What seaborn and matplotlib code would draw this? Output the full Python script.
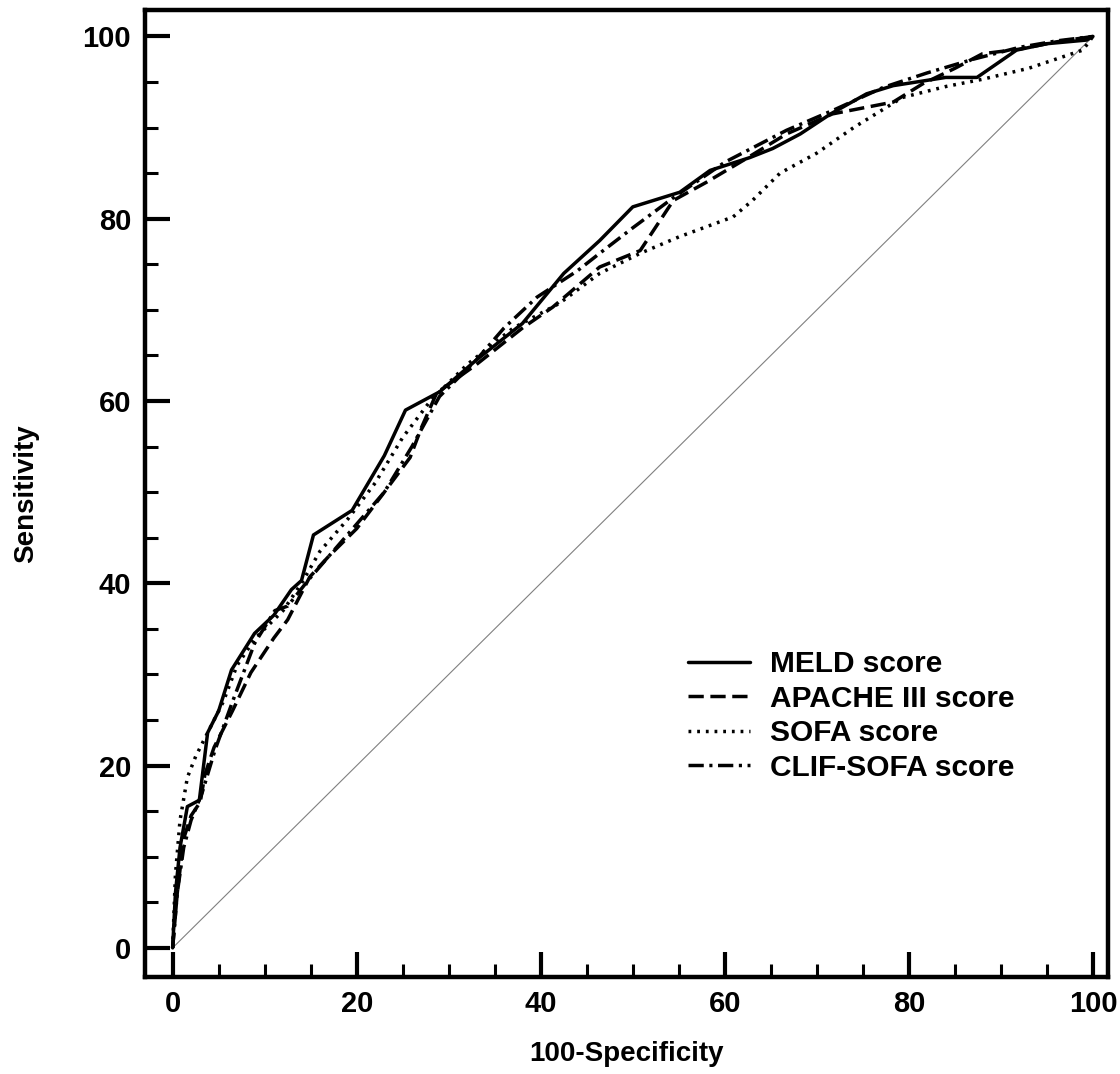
import numpy as np
import pandas as pd
import matplotlib
matplotlib.use("Agg")
import matplotlib.pyplot as plt
from matplotlib.ticker import MultipleLocator
import seaborn as sns

# ROC curves (100-Specificity, Sensitivity)
meld_x = [0, 0.3, 0.8, 1.6, 2.9, 3.8, 5, 6.4, 8.9, 11, 12.9, 14, 15.3, 19.5, 23, 25.3,
          29, 33, 38, 42.5, 46.4, 50, 55.1, 58.4, 62.7, 65.2, 68.2, 71.5, 75.4, 78.3,
          84, 87.4, 91.7, 95, 99.3, 100]
meld_y = [0, 6, 11, 15.5, 16.2, 23.6, 26, 30.5, 34.5, 36.5, 39.3, 40.3, 45.3, 48, 54, 59,
          61, 64.5, 68.5, 74, 77.6, 81.3, 82.9, 85.3, 86.7, 87.7, 89.3, 91.5, 93.7, 94.6,
          95.5, 95.5, 98.5, 99.2, 99.6, 100]

apache_x = [0, 0.5, 1.2, 2, 3, 3.5, 4.5, 6.5, 8.5, 11, 12.5, 14.9, 17, 20, 23, 25.8, 27,
            28.7, 33, 38, 41.3, 46.4, 50.8, 54.4, 58, 62, 66.7, 71.7, 78.3, 81.5, 85, 88,
            92, 96, 100]
apache_y = [0, 6, 12, 14.5, 16, 19, 22, 26, 30.2, 34, 36, 40.7, 43, 46, 50, 53.8, 57,
            60.9, 64, 68, 70.3, 74.7, 76.5, 82, 84, 86.4, 89.3, 91.5, 92.8, 94.8, 96.5, 98.1,
            98.6, 99.4, 100]

sofa_x = [0, 0.3, 0.8, 1.6, 2.5, 4, 5.5, 7, 9, 12, 14, 16, 19, 22, 25, 28, 32, 37, 42,
          46.4, 50.8, 55, 60.9, 63, 66, 70, 74, 79.3, 84, 88, 93, 98.9, 100]
sofa_y = [0, 8, 14, 18.7, 21, 24, 27, 31, 34, 37, 40, 43.5, 47, 51, 56, 60, 64, 68, 70.7,
          74, 76.2, 78, 80.2, 82, 85, 87.2, 90, 93.3, 94.5, 95.3, 96.5, 98.5, 100]

clif_x = [0, 0.5, 1.2, 2, 3.2, 4.6, 6.5, 8.9, 11.1, 12.5, 14.7, 17, 20, 23, 26, 29, 33,
          36, 39.6, 44, 46.4, 50, 54.4, 60, 66.7, 72, 77.2, 82, 87, 92, 96, 100]
clif_y = [0, 6, 11, 14, 17, 21.7, 27, 33.4, 37, 37.5, 40.3, 43, 46.5, 50, 55, 60.5, 64.5,
          68, 71.4, 74.3, 76.2, 79, 82.3, 86.2, 89.7, 92, 94.4, 96, 97.5, 98.8, 99.5, 100]

diag_x = [0, 100]
diag_y = [0, 100]

score_names = ["MELD score", "APACHE III score", "SOFA score", "CLIF-SOFA score"]
curves = [(meld_x, meld_y), (apache_x, apache_y), (sofa_x, sofa_y), (clif_x, clif_y)]

frames = []
for name, (xs, ys) in zip(score_names, curves):
    frames.append(pd.DataFrame({"fpr": xs, "tpr": ys, "score": name}))
df = pd.concat(frames, ignore_index=True)

sns.set_theme(style="ticks")
plt.rcParams["font.family"] = ["Liberation Sans", "DejaVu Sans"]
plt.rcParams["font.weight"] = "bold"
plt.rcParams["axes.labelweight"] = "bold"
plt.rcParams["text.color"] = "black"
plt.rcParams["axes.labelcolor"] = "black"

fig = plt.figure(figsize=(11.2, 10.74), dpi=100)
ax = fig.add_axes([0.1295, 0.0903, 0.8595, 0.9004])

# reference diagonal
sns.lineplot(x=diag_x, y=diag_y, ax=ax, color="0.5", linewidth=0.8, legend=False)

dash_styles = {
    "MELD score": "",
    "APACHE III score": (4.4, 1.9),
    "SOFA score": (0.8, 1.7),
    "CLIF-SOFA score": (4.4, 1.6, 0.9, 1.6),
}
sns.lineplot(data=df, x="fpr", y="tpr", style="score", style_order=score_names,
             dashes=dash_styles, color="black", linewidth=2.5, sort=False,
             estimator=None, ax=ax)

ax.set_xlim(-3.0, 101.6)
ax.set_ylim(-3.2, 102.9)
ax.xaxis.set_major_locator(MultipleLocator(20))
ax.xaxis.set_minor_locator(MultipleLocator(5))
ax.yaxis.set_major_locator(MultipleLocator(20))
ax.yaxis.set_minor_locator(MultipleLocator(5))
ax.tick_params(which="major", direction="in", length=18, width=3, labelsize=21,
               colors="black")
ax.tick_params(which="minor", direction="in", length=9.5, width=2.2, colors="black")
ax.tick_params(axis="x", which="major", pad=9)
ax.tick_params(axis="y", which="major", pad=10)
for lab in ax.get_xticklabels() + ax.get_yticklabels():
    lab.set_fontweight("bold")

for side in ["left", "right", "top", "bottom"]:
    ax.spines[side].set_visible(True)
    ax.spines[side].set_linewidth(3.2)
    ax.spines[side].set_color("black")

ax.set_xlabel("100-Specificity", fontsize=20, fontweight="bold", labelpad=17)
ax.set_ylabel("Sensitivity", fontsize=20, fontweight="bold", labelpad=31)

handles, labels = ax.get_legend_handles_labels()
ax.legend(handles, labels, loc="upper left", bbox_to_anchor=(0.564, 0.338),
          frameon=False, borderpad=0, borderaxespad=0, handlelength=2.07,
          handletextpad=0.67, labelspacing=0.22,
          prop={"size": 21.5, "weight": "bold"})

fig.savefig("out.png", dpi=100, facecolor="white")
